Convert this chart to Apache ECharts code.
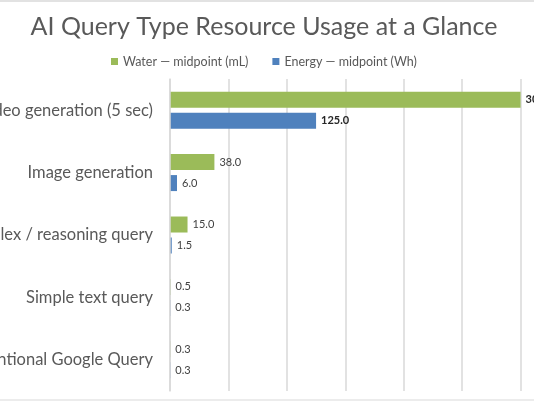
<!DOCTYPE html>
<html>
<head>
<meta charset="utf-8">
<script src="https://cdn.jsdelivr.net/npm/echarts@6/dist/echarts.min.js"></script>
<style>
html,body{margin:0;padding:0;background:#fff;}
#chart{width:534px;height:401px;}
</style>
</head>
<body>
<div id="chart"></div>
<script>
const categories = ["Video generation (5 sec)", "Image generation", "Complex / reasoning query", "Simple text query", "Conventional Google Query"];
const waterValues = [300, 38, 15, 0.5, 0.3];
const energyValues = [125, 6, 1.5, 0.3, 0.3];
const seriesNames = ["Water \u2014 midpoint (mL)", "Energy \u2014 midpoint (Wh)"];

const FONT = "Lato, 'Noto Sans', sans-serif";
const chart = echarts.init(document.getElementById('chart'), null, {renderer: 'canvas'});

function toData(vals) {
  return vals.map((v, i) => ({
    value: v,
    label: i === 0 ? {fontWeight: 'bold', color: '#262626'} : {}
  }));
}

const labelCfg = {
  show: true,
  position: 'right',
  distance: 5,
  fontFamily: FONT,
  fontSize: 11,
  color: '#404040',
  formatter: p => p.value.toFixed(1)
};

chart.setOption({
  animation: false,
  backgroundColor: '#fff',
  title: {
    text: 'AI Query Type Resource Usage at a Glance',
    left: 259,
    textAlign: 'center',
    top: 9,
    textStyle: {fontFamily: FONT, fontSize: 25, fontWeight: 'normal', color: '#595959'}
  },
  legend: {
    top: 50,
    left: 106,
    itemWidth: 7,
    itemHeight: 7,
    itemGap: 24,
    icon: 'rect',
    textStyle: {fontFamily: FONT, fontSize: 12.5, color: '#595959'},
    data: seriesNames
  },
  grid: {
    left: 170,
    top: 79,
    width: 409,
    height: 312,
    containLabel: false,
    outerBoundsMode: 'none'
  },
  xAxis: {
    type: 'value',
    min: 0,
    max: 350,
    interval: 50,
    axisLabel: {show: false},
    axisLine: {show: false},
    axisTick: {show: false},
    splitLine: {lineStyle: {color: '#d9d9d9', width: 1.5}}
  },
  yAxis: {
    type: 'category',
    inverse: true,
    data: categories,
    z: 5,
    axisLine: {show: true, lineStyle: {color: '#d9d9d9', width: 1.5}},
    axisTick: {show: false},
    axisLabel: {fontFamily: FONT, fontSize: 16.5, color: '#595959', margin: 17}
  },
  graphic: [
    {type: 'line', shape: {x1: 0, y1: 1, x2: 534, y2: 1}, style: {stroke: '#d9d9d9', lineWidth: 1.5}},
    {type: 'line', shape: {x1: 0, y1: 400, x2: 534, y2: 400}, style: {stroke: '#e6e6e6', lineWidth: 1.5}}
  ],
  series: [
    {
      name: seriesNames[0],
      type: 'bar',
      data: toData(waterValues),
      barWidth: 16,
      barGap: '31%',
      itemStyle: {color: '#9BBB59'},
      label: labelCfg
    },
    {
      name: seriesNames[1],
      type: 'bar',
      data: toData(energyValues),
      barWidth: 16,
      barGap: '31%',
      itemStyle: {color: '#4F81BD'},
      label: labelCfg
    }
  ]
});
</script>
</body>
</html>
